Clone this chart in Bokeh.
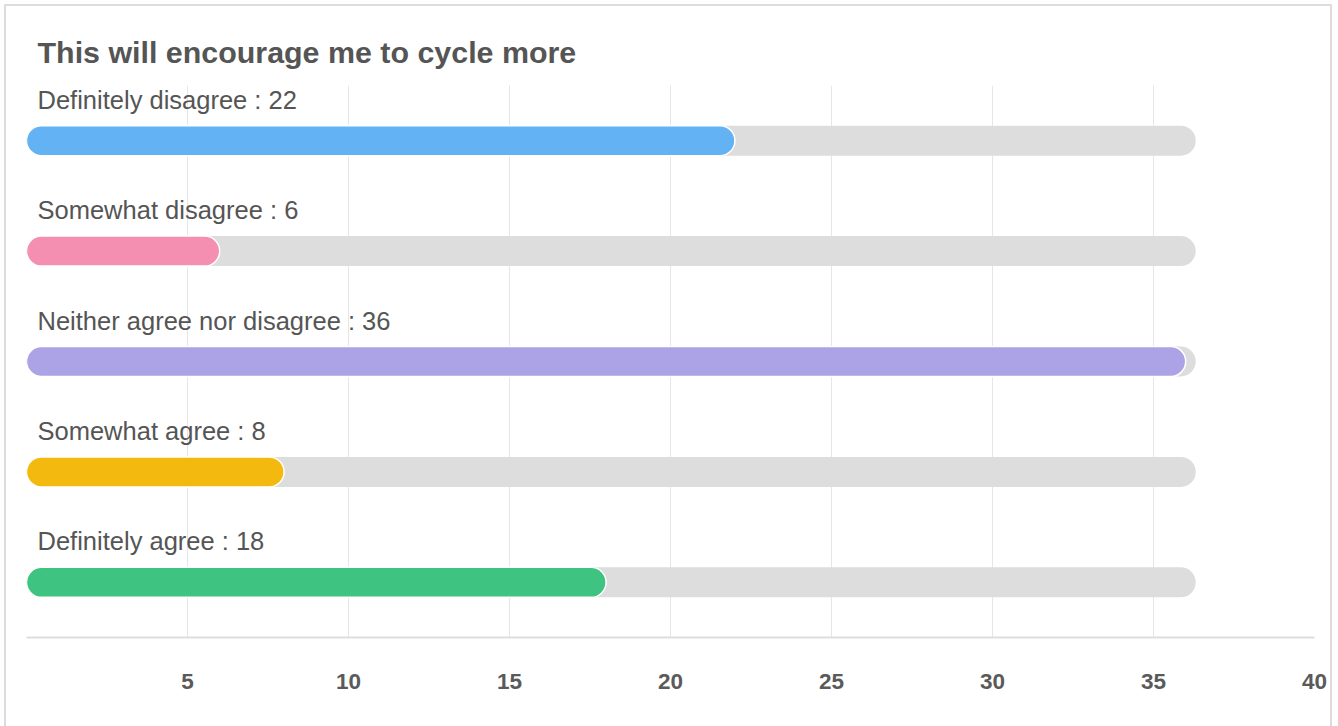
from bokeh.plotting import figure
from bokeh.models import Range1d, FactorRange, FixedTicker, ColumnDataSource
from bokeh.core.properties import value
from bokeh.embed import file_html
from bokeh.resources import INLINE

title = "This will encourage me to cycle more"
categories = ["Definitely disagree", "Somewhat disagree", "Neither agree nor disagree",
              "Somewhat agree", "Definitely agree"]
counts = [22, 6, 36, 8, 18]
colors = ["#63b3f4", "#f58fb1", "#aba3e6", "#f4b90e", "#3ec480"]
axis_ticks = [5, 10, 15, 20, 25, 30, 35, 40]
grid_ticks = [0, 5, 10, 15, 20, 25, 30, 35, 40]

FONT = "Liberation Sans"
W, H = 1328, 724
ML, MR, MT = 20, 20, 79
FRAME_H = 552
MB = H - MT - FRAME_H
FRAME_W = W - ML - MR
X_MAX = 40
BAR_PX = 30
TRACK_OVERHANG_PX = 10
px_per_unit = FRAME_W / X_MAX

cap_units = (BAR_PX / 2) / px_per_unit
src = ColumnDataSource(dict(
    cat=categories,
    val=counts,
    color=colors,
    label=[f"{c} : {v}" for c, v in zip(categories, counts)],
    track_end=[max(counts) - cap_units + TRACK_OVERHANG_PX / px_per_unit] * len(counts),
    track_start=[cap_units] * len(counts),
))

p = figure(width=W, height=H, output_backend="svg", toolbar_location=None,
           x_range=Range1d(0, X_MAX), y_range=FactorRange(factors=categories[::-1]),
           min_border_left=ML, min_border_right=MR, min_border_top=MT, min_border_bottom=MB,
           styles={"border": "2px solid #dcdcdc", "margin-left": "4px", "margin-top": "4px"})
p.outline_line_color = None
p.background_fill_color = "white"
p.border_fill_color = "white"

p.title.text = title
p.title.text_font = FONT
p.title.text_font_size = "30.4px"
p.title.text_font_style = "bold"
p.title.text_color = "#555555"
p.title.align = "left"
p.title.offset = 11
p.title.standoff = 33

p.yaxis.visible = False
p.ygrid.grid_line_color = None
p.xgrid.ticker = FixedTicker(ticks=grid_ticks)
p.xgrid.grid_line_color = "#e6e6e6"
p.xgrid.grid_line_width = 1

p.xaxis.ticker = FixedTicker(ticks=axis_ticks)
p.xaxis.axis_line_color = "#dddddd"
p.xaxis.axis_line_width = 2
p.xaxis.major_tick_line_color = None
p.xaxis.minor_tick_line_color = None
p.xaxis.major_label_standoff = 30
p.xaxis.major_label_text_font = FONT
p.xaxis.major_label_text_font_size = "22.5px"
p.xaxis.major_label_text_font_style = "bold"
p.xaxis.major_label_text_color = "#5a5a5a"

bar_h = BAR_PX / (FRAME_H / len(categories))

p.segment(x0="track_start", y0="cat", x1="track_end", y1="cat", source=src,
          line_width=BAR_PX, line_cap="round", line_color="#dddddd")
p.hbar(y="cat", left=0, right="val", height=bar_h, source=src, fill_color="color",
       line_color="white", line_width=1.5, border_radius=BAR_PX // 2)
p.text(x=0, y="cat", text="label", source=src, x_offset=11, y_offset=-41,
       text_font=value(FONT), text_font_size="25.5px", text_color="#555555",
       text_baseline="middle")

open("out.html", "w").write(file_html(p, INLINE))
